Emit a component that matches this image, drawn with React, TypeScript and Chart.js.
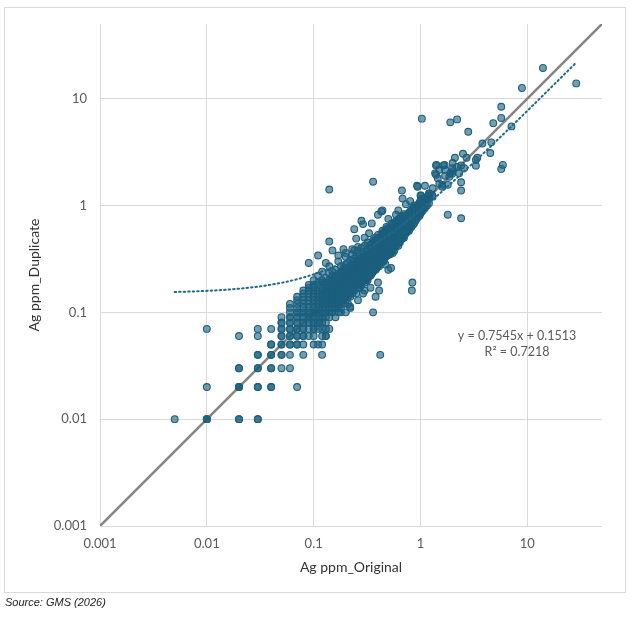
import React, { useEffect, useRef } from "react";
import { Chart, registerables } from "chart.js";

Chart.register(...registerables);

const axisTicks = [0.001, 0.01, 0.1, 1, 10];
const axisTickLabels = ["0.001", "0.01", "0.1", "1", "10"];
const axisMin = 0.001;
const axisMax = 50;
const xTitle = "Ag ppm_Original";
const yTitle = "Ag ppm_Duplicate";
const sourceText = "Source: GMS (2026)";

const trendSlope = 0.7545;
const trendIntercept = 0.1513;
const trendR2 = "0.7218";
const trendFrom = 0.005;
const trendTo = 28.7;
const equationAnchor = { x: 8, y: 0.06 };

// Low-grade assays recorded at 0.01 ppm resolution (repeated pairs overlap)
const lowGridPoints: [number, number][] = [
  [0.005, 0.01], [0.01, 0.01], [0.01, 0.01], [0.01, 0.01], [0.02, 0.01], [0.02, 0.01], [0.03, 0.01], [0.03, 0.01],
  [0.01, 0.02], [0.02, 0.02], [0.02, 0.02], [0.02, 0.02], [0.03, 0.02], [0.03, 0.02], [0.04, 0.02], [0.04, 0.02], [0.07, 0.02],
  [0.02, 0.03], [0.02, 0.03], [0.03, 0.03], [0.03, 0.03], [0.04, 0.03], [0.04, 0.03], [0.05, 0.03], [0.06, 0.03],
  [0.03, 0.04], [0.03, 0.04], [0.04, 0.04], [0.04, 0.04], [0.05, 0.04], [0.05, 0.04], [0.06, 0.04], [0.08, 0.04], [0.12, 0.04],
  [0.04, 0.05], [0.04, 0.05], [0.05, 0.05], [0.05, 0.05], [0.06, 0.05], [0.06, 0.05], [0.07, 0.05], [0.07, 0.05], [0.08, 0.05], [0.1, 0.05], [0.11, 0.05],
  [0.02, 0.06], [0.03, 0.06], [0.05, 0.06], [0.05, 0.06], [0.06, 0.06], [0.06, 0.06], [0.07, 0.06], [0.07, 0.06], [0.08, 0.06], [0.08, 0.06], [0.09, 0.06], [0.1, 0.06], [0.12, 0.06], [0.13, 0.06],
  [0.01, 0.07], [0.03, 0.07], [0.04, 0.07], [0.05, 0.07], [0.05, 0.07], [0.06, 0.07], [0.06, 0.07], [0.07, 0.07], [0.07, 0.07], [0.08, 0.07], [0.08, 0.07], [0.09, 0.07], [0.1, 0.07], [0.1, 0.07], [0.11, 0.07], [0.13, 0.07],
  [0.05, 0.08], [0.05, 0.08], [0.06, 0.08], [0.06, 0.08], [0.07, 0.08], [0.07, 0.08], [0.08, 0.08], [0.08, 0.08], [0.09, 0.08], [0.09, 0.08], [0.1, 0.08], [0.1, 0.08], [0.11, 0.08], [0.12, 0.08],
  [0.05, 0.09], [0.06, 0.09], [0.06, 0.09], [0.07, 0.09], [0.07, 0.09], [0.08, 0.09], [0.08, 0.09], [0.09, 0.09], [0.09, 0.09], [0.1, 0.09], [0.1, 0.09], [0.11, 0.09], [0.12, 0.09], [0.13, 0.09],
  [0.06, 0.1], [0.07, 0.1], [0.07, 0.1], [0.08, 0.1], [0.08, 0.1], [0.09, 0.1], [0.09, 0.1], [0.1, 0.1], [0.1, 0.1], [0.1, 0.1], [0.11, 0.1], [0.11, 0.1], [0.12, 0.1], [0.13, 0.1], [0.15, 0.1],
];

// Dense band: original value -> duplicate values
const coreBand: [number, number[]][] = [
  [0.06, [0.11, 0.12]],
  [0.07, [0.11, 0.12, 0.13, 0.14]],
  [0.08, [0.11, 0.12, 0.13, 0.14, 0.15, 0.16]],
  [0.09, [0.11, 0.12, 0.13, 0.14, 0.15, 0.16, 0.17, 0.18]],
  [0.1, [0.11, 0.12, 0.13, 0.14, 0.15, 0.16, 0.17, 0.18, 0.2]],
  [0.11, [0.08, 0.1, 0.11, 0.12, 0.13, 0.14, 0.15, 0.16, 0.18, 0.19, 0.22]],
  [0.12, [0.07, 0.09, 0.11, 0.12, 0.13, 0.14, 0.15, 0.16, 0.17, 0.19, 0.2, 0.24]],
  [0.13, [0.08, 0.1, 0.11, 0.12, 0.13, 0.14, 0.15, 0.16, 0.17, 0.18, 0.19, 0.21]],
  [0.14, [0.09, 0.1, 0.11, 0.12, 0.13, 0.14, 0.15, 0.16, 0.17, 0.18, 0.19, 0.2, 0.23, 0.27]],
  [0.15, [0.1, 0.11, 0.12, 0.13, 0.14, 0.15, 0.16, 0.17, 0.18, 0.19, 0.2, 0.22, 0.24]],
  [0.16, [0.11, 0.12, 0.13, 0.14, 0.15, 0.16, 0.17, 0.18, 0.19, 0.2, 0.21, 0.22, 0.25]],
  [0.17, [0.1, 0.11, 0.12, 0.13, 0.14, 0.15, 0.16, 0.17, 0.18, 0.19, 0.2, 0.21, 0.23, 0.3]],
  [0.18, [0.11, 0.12, 0.13, 0.14, 0.15, 0.16, 0.17, 0.18, 0.19, 0.2, 0.21, 0.22, 0.23, 0.24, 0.27]],
  [0.19, [0.12, 0.13, 0.14, 0.15, 0.16, 0.17, 0.18, 0.19, 0.2, 0.21, 0.22, 0.23, 0.25, 0.26]],
  [0.2, [0.13, 0.14, 0.15, 0.16, 0.17, 0.18, 0.19, 0.2, 0.21, 0.22, 0.23, 0.24, 0.28, 0.33]],
  [0.21, [0.12, 0.14, 0.16, 0.17, 0.18, 0.19, 0.2, 0.21, 0.22, 0.23, 0.24, 0.26, 0.29]],
  [0.22, [0.14, 0.15, 0.17, 0.18, 0.19, 0.2, 0.21, 0.22, 0.23, 0.24, 0.25, 0.27, 0.31]],
  [0.23, [0.15, 0.16, 0.18, 0.19, 0.2, 0.21, 0.22, 0.23, 0.24, 0.25, 0.26, 0.28, 0.35]],
  [0.24, [0.16, 0.17, 0.19, 0.2, 0.21, 0.22, 0.23, 0.24, 0.25, 0.26, 0.27, 0.3, 0.32]],
  [0.25, [0.15, 0.18, 0.19, 0.2, 0.21, 0.22, 0.23, 0.24, 0.25, 0.26, 0.27, 0.28, 0.29, 0.33]],
  [0.26, [0.17, 0.18, 0.2, 0.21, 0.22, 0.23, 0.24, 0.25, 0.26, 0.27, 0.28, 0.29, 0.31, 0.38]],
  [0.27, [0.18, 0.19, 0.2, 0.22, 0.23, 0.24, 0.25, 0.26, 0.27, 0.28, 0.29, 0.3, 0.32, 0.35]],
  [0.28, [0.18, 0.19, 0.21, 0.23, 0.25, 0.26, 0.27, 0.28, 0.29, 0.3, 0.32, 0.34, 0.4]],
  [0.29, [0.2, 0.21, 0.23, 0.24, 0.26, 0.27, 0.28, 0.29, 0.3, 0.31, 0.33, 0.35]],
  [0.3, [0.19, 0.2, 0.22, 0.23, 0.25, 0.26, 0.27, 0.28, 0.29, 0.3, 0.31, 0.32, 0.34, 0.36, 0.42]],
  [0.31, [0.2, 0.24, 0.28, 0.31, 0.34, 0.37]],
  [0.32, [0.21, 0.24, 0.27, 0.29, 0.31, 0.33, 0.35, 0.39, 0.45]],
  [0.33, [0.22, 0.25, 0.3, 0.33, 0.36, 0.4]],
  [0.34, [0.22, 0.26, 0.29, 0.32, 0.34, 0.36, 0.38, 0.43]],
  [0.35, [0.23, 0.27, 0.32, 0.35, 0.39, 0.44]],
  [0.36, [0.24, 0.28, 0.31, 0.34, 0.36, 0.38, 0.41, 0.47]],
  [0.37, [0.25, 0.29, 0.33, 0.37, 0.41, 0.46]],
  [0.38, [0.25, 0.3, 0.33, 0.36, 0.38, 0.4, 0.44, 0.5]],
  [0.39, [0.26, 0.3, 0.35, 0.39, 0.43, 0.48]],
  [0.4, [0.27, 0.31, 0.35, 0.38, 0.4, 0.42, 0.46, 0.53]],
  [0.41, [0.27, 0.32, 0.37, 0.41, 0.45, 0.5]],
  [0.42, [0.29, 0.33, 0.37, 0.4, 0.42, 0.45, 0.49]],
  [0.43, [0.29, 0.34, 0.38, 0.43, 0.47, 0.54]],
  [0.44, [0.3, 0.35, 0.39, 0.42, 0.44, 0.47, 0.52, 0.58]],
  [0.45, [0.31, 0.36, 0.4, 0.45, 0.5, 0.56]],
  [0.46, [0.32, 0.37, 0.41, 0.44, 0.46, 0.49, 0.55]],
  [0.47, [0.33, 0.38, 0.42, 0.47, 0.52, 0.59]],
  [0.48, [0.34, 0.39, 0.43, 0.46, 0.48, 0.51, 0.57, 0.63]],
  [0.49, [0.34, 0.39, 0.44, 0.49, 0.54, 0.61]],
  [0.5, [0.35, 0.4, 0.45, 0.48, 0.5, 0.53, 0.6]],
  [0.51, [0.36, 0.41, 0.46, 0.51, 0.56, 0.62]],
  [0.52, [0.35, 0.42, 0.47, 0.52, 0.58]],
  [0.53, [0.38, 0.43, 0.48, 0.51, 0.53, 0.56, 0.63]],
  [0.54, [0.37, 0.44, 0.49, 0.54, 0.6, 0.68]],
  [0.55, [0.39, 0.45, 0.5, 0.55, 0.61]],
  [0.56, [0.4, 0.46, 0.5, 0.54, 0.56, 0.6, 0.67]],
  [0.58, [0.41, 0.47, 0.53, 0.58, 0.63, 0.7]],
  [0.6, [0.43, 0.49, 0.54, 0.58, 0.6, 0.64, 0.72]],
  [0.62, [0.45, 0.51, 0.57, 0.62, 0.67, 0.74]],
  [0.64, [0.47, 0.53, 0.58, 0.62, 0.64, 0.68, 0.76]],
  [0.66, [0.48, 0.55, 0.61, 0.66, 0.71, 0.79]],
  [0.68, [0.5, 0.57, 0.62, 0.66, 0.69, 0.73, 0.8]],
  [0.7, [0.52, 0.59, 0.65, 0.7, 0.75, 0.83]],
  [0.72, [0.54, 0.61, 0.66, 0.7, 0.73, 0.78]],
  [0.74, [0.56, 0.63, 0.69, 0.74, 0.8]],
  [0.76, [0.58, 0.65, 0.7, 0.74, 0.77, 0.83]],
  [0.78, [0.6, 0.67, 0.73, 0.78, 0.85]],
  [0.8, [0.62, 0.69, 0.74, 0.79, 0.82, 0.88]],
  [0.82, [0.63, 0.71, 0.77, 0.82, 0.9]],
  [0.85, [0.66, 0.74, 0.79, 0.84, 0.88, 0.95]],
  [0.87, [0.68, 0.76, 0.82, 0.87, 0.93, 1.0]],
  [0.9, [0.72, 0.8, 0.85, 0.9, 0.95]],
  [0.92, [0.75, 0.83, 0.88, 0.93, 0.99]],
  [0.95, [0.78, 0.86, 0.92, 0.97, 1.02]],
  [0.98, [0.8, 0.89, 0.95, 1.0, 1.07]],
  [1.0, [0.84, 0.91, 0.97, 1.03, 1.1, 1.24]],
  [1.02, [0.87, 0.94, 1.0, 1.08, 1.15]],
  [1.05, [0.9, 0.98, 1.05, 1.12]],
  [1.08, [0.93, 1.0, 1.07, 1.16]],
  [1.1, [0.95, 1.04, 1.1, 1.53]],
  [1.15, [1.0, 1.1, 1.2]],
  [1.2, [1.05, 1.15, 1.25, 1.3]],
];

// Higher grades (above ~1 ppm)
const upperPoints: [number, number][] = [
  [0.93, 1.53], [0.94, 1.5], [1.01, 1.24], [1.21, 1.3], [1.29, 1.24], [1.3, 1.21], [1.3, 1.45],
  [1.37, 2.0], [1.4, 2.37], [1.41, 2.4], [1.4, 1.94], [1.45, 1.8], [1.5, 1.6], [1.6, 1.5],
  [1.64, 2.37], [1.68, 2.4], [1.7, 1.9], [1.8, 1.56], [1.9, 2.0], [1.98, 1.98], [1.98, 2.24],
  [2.0, 2.5], [2.0, 2.1], [1.86, 1.86], [1.6, 1.56], [1.5, 2.16], [1.7, 2.16], [2.2, 2.3],
  [2.3, 2.0], [2.4, 1.65], [2.4, 1.38], [2.4, 2.37], [2.57, 2.24], [2.1, 2.8], [2.5, 3.05],
  [2.7, 2.8], [3.3, 2.67], [3.3, 2.36], [3.4, 2.8], [3.8, 3.8], [4.6, 3.9], [4.5, 3.1],
  [5.9, 2.4], [5.7, 2.2], [4.8, 5.9], [5.7, 6.6], [5.7, 8.4], [7.1, 5.5], [8.9, 12.6],
  [14.0, 19.4], [28.7, 13.9], [2.8, 4.9], [1.9, 6.0], [2.2, 6.4], [1.03, 6.5],
];

// Scattered pairs away from the main band
const outlierPoints: [number, number][] = [
  [0.42, 0.04], [0.36, 0.1], [0.84, 0.19], [0.83, 0.16], [0.47, 0.28], [0.53, 0.26], [0.5, 0.25],
  [1.8, 0.82], [2.4, 0.76], [0.14, 1.41], [0.36, 1.67], [0.14, 0.46], [0.09, 0.29], [0.11, 0.34],
  [0.13, 0.29], [0.15, 0.38], [0.19, 0.39], [0.23, 0.39], [0.24, 0.38], [0.24, 0.6], [0.25, 0.49],
  [0.28, 0.72], [0.29, 0.67], [0.35, 0.68], [0.4, 0.82], [0.43, 0.88], [0.44, 0.9], [0.59, 0.82],
  [0.68, 1.16], [0.73, 1.03], [0.67, 1.38], [0.41, 0.16], [0.38, 0.14], [0.4, 0.19], [0.34, 0.17],
  [0.29, 0.15], [0.26, 0.13], [0.22, 0.11], [0.18, 0.1], [0.13, 0.06], [0.22, 0.113], [0.12, 0.05],
  [0.14, 0.07], [0.16, 0.09], [0.2, 0.1], [0.3, 0.16], [0.55, 0.36], [0.62, 0.42], [0.7, 0.5],
  [0.3, 0.5], [0.2, 0.36], [0.17, 0.34], [0.33, 0.55], [0.5, 0.75], [0.62, 0.9], [0.8, 1.1],
  [0.45, 0.3], [0.57, 0.38], [0.32, 0.2], [0.27, 0.17], [0.64, 0.45], [0.78, 0.58], [0.26, 0.41],
];

const allPoints = [
  ...lowGridPoints,
  ...coreBand.flatMap(([x, ys]) => ys.map((y) => [x, y] as [number, number])),
  ...upperPoints,
  ...outlierPoints,
].map(([x, y]) => ({ x, y }));

const trendSamples = 80;
const trendLine = Array.from({ length: trendSamples + 1 }, (_, i) => {
  const lx = Math.log10(trendFrom) + (i / trendSamples) * (Math.log10(trendTo) - Math.log10(trendFrom));
  const x = Math.pow(10, lx);
  return { x, y: trendSlope * x + trendIntercept };
});

const oneToOne = [
  { x: axisMin, y: axisMin },
  { x: axisMax, y: axisMax },
];

const FONT = "Lato, 'Noto Sans', sans-serif";

const equationPlugin = {
  id: "equationLabel",
  afterDatasetsDraw(chart: any) {
    const { ctx, scales } = chart;
    const px = scales.x.getPixelForValue(equationAnchor.x);
    const py = scales.y.getPixelForValue(equationAnchor.y);
    ctx.save();
    ctx.fillStyle = "#595959";
    ctx.font = `12.5px ${FONT}`;
    ctx.textAlign = "center";
    ctx.textBaseline = "middle";
    ctx.fillText(`y = ${trendSlope}x + ${trendIntercept}`, px, py);
    ctx.fillText(`R\u00B2 = ${trendR2}`, px, py + 16);
    ctx.restore();
  },
};

export default function App() {
  const ref = useRef<HTMLCanvasElement | null>(null);

  useEffect(() => {
    if (!ref.current) return;
    const logAxis = (title: string, isX: boolean) => ({
      type: "logarithmic" as const,
      min: axisMin,
      max: axisMax,
      afterBuildTicks: (scale: any) => {
        scale.ticks = axisTicks.map((v) => ({ value: v }));
      },
      afterFit: (scale: any) => {
        if (isX) scale.height = 54;
        else scale.width = 100;
      },
      ticks: {
        autoSkip: false,
        padding: isX ? 10 : 13,
        color: "#595959",
        font: { family: FONT, size: 13 },
        callback: (value: any) => {
          const idx = axisTicks.findIndex((t) => Math.abs(t - value) / t < 1e-6);
          return idx >= 0 ? axisTickLabels[idx] : "";
        },
      },
      grid: { color: "#d9d9d9", lineWidth: 1, drawTicks: false },
      border: { display: false },
      title: {
        display: true,
        text: title,
        color: "#333333",
        font: { family: FONT, size: 14 },
        padding: isX ? { top: 0, bottom: 4 } : { top: 26, bottom: 0 },
      },
    });

    const chart = new Chart(ref.current, {
      type: "scatter",
      data: {
        datasets: [
          {
            label: "1:1",
            data: oneToOne,
            showLine: true,
            borderColor: "#858585",
            borderWidth: 2.6,
            pointRadius: 0,
            order: 3,
          } as any,
          {
            label: "Duplicates",
            data: allPoints,
            pointRadius: 3.4,
            pointBorderWidth: 1.1,
            pointBorderColor: "#1d5f7e",
            pointBackgroundColor: "rgba(25,95,125,0.6)",
            showLine: false,
            order: 2,
          } as any,
          {
            label: "Trend",
            data: trendLine,
            showLine: true,
            borderColor: "#1f6a8a",
            borderWidth: 2,
            borderDash: [1.5, 3],
            borderCapStyle: "round",
            pointRadius: 0,
            order: 1,
          } as any,
        ],
      },
      options: {
        animation: false,
        responsive: false,
        layout: { padding: { left: 0, right: 36, top: 24, bottom: 38 } },
        plugins: {
          legend: { display: false },
          tooltip: { enabled: false },
        },
        scales: {
          x: logAxis(xTitle, true),
          y: logAxis(yTitle, false),
        },
      } as any,
      plugins: [equationPlugin],
    });
    return () => chart.destroy();
  }, []);

  return (
    <div style={{ position: "fixed", left: 0, top: 0, width: 638, height: 618, background: "#fff" }}>
      <div
        style={{
          position: "absolute",
          left: 4,
          top: 7,
          width: 622,
          height: 586,
          border: "1px solid #d9d9d9",
          boxSizing: "border-box",
        }}
      />
      <canvas ref={ref} width={638} height={618} style={{ position: "absolute", left: 0, top: 0 }} />
      <div
        style={{
          position: "absolute",
          left: 5,
          top: 595,
          fontFamily: "'Liberation Sans', Arial, sans-serif",
          fontStyle: "italic",
          fontSize: 11,
          color: "#222",
          lineHeight: "14px",
        }}
      >
        {sourceText}
      </div>
    </div>
  );
}
